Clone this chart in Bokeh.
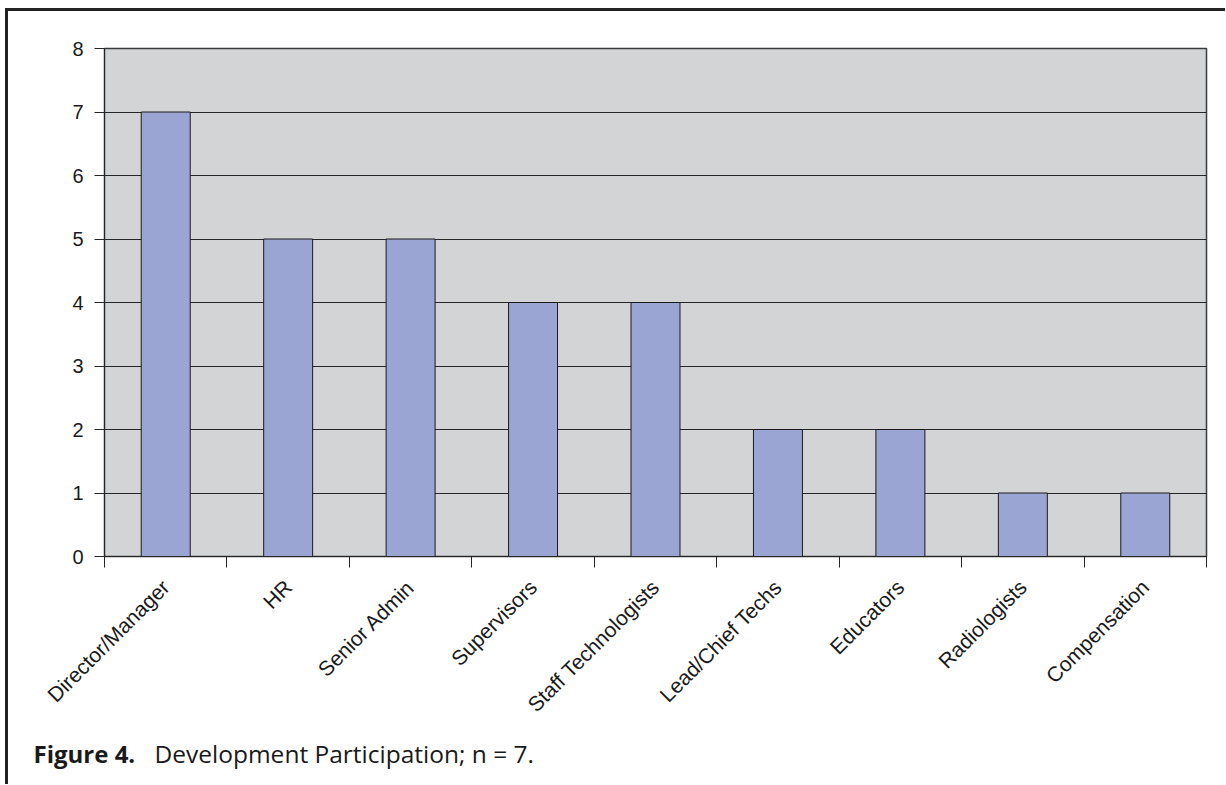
from math import pi
from bokeh.plotting import figure
from bokeh.layouts import column
from bokeh.models import Range1d, FixedTicker, Label
from bokeh.embed import file_html
from bokeh.resources import INLINE

categories = ["Director/Manager", "HR", "Senior Admin", "Supervisors",
              "Staff Technologists", "Lead/Chief Techs", "Educators",
              "Radiologists", "Compensation"]
values = [7, 5, 5, 4, 4, 2, 2, 1, 1]
y_ticks = [0, 1, 2, 3, 4, 5, 6, 7, 8]
caption_bold = "Figure 4."
caption_text = "Development Participation; n = 7."

centers = [i + 0.5 for i in range(len(categories))]
bounds = [i for i in range(len(categories) + 1)]

W = 1217
p = figure(width=W, height=721, output_backend="svg", toolbar_location=None,
           x_range=Range1d(0, len(categories)), y_range=Range1d(0, 8),
           min_border_left=96, min_border_top=37, min_border_right=19,
           min_border_bottom=176)
p.frame_align = False

p.background_fill_color = "#D3D4D6"
p.border_fill_color = "white"
p.outline_line_color = "#3a3a3a"
p.outline_line_width = 1.5

p.vbar(x=centers, top=values, width=0.4, bottom=0,
       fill_color="#9BA5D3", line_color="#1a1a1a", line_width=1)

p.xgrid.visible = False
p.ygrid.ticker = FixedTicker(ticks=y_ticks)
p.ygrid.grid_line_color = "#262626"
p.ygrid.grid_line_width = 1

ya = p.yaxis[0]
ya.ticker = FixedTicker(ticks=y_ticks)
ya.major_tick_out = 10
ya.major_tick_in = 0
ya.minor_tick_out = 0
ya.minor_tick_in = 0
ya.axis_line_color = "#262626"
ya.major_tick_line_color = "#262626"
ya.major_label_text_font = "Liberation Sans"
ya.major_label_text_font_size = "20px"
ya.major_label_text_color = "#1a1a1a"
ya.major_label_standoff = 11

xa = p.xaxis[0]
xa.ticker = FixedTicker(ticks=centers, minor_ticks=bounds)
xa.major_label_overrides = {c: n for c, n in zip(centers, categories)}
xa.major_label_orientation = pi / 4
xa.major_tick_out = 0
xa.major_tick_in = 0
xa.minor_tick_out = 11
xa.minor_tick_in = 0
xa.minor_tick_line_color = "#262626"
xa.axis_line_color = "#262626"
xa.major_label_text_font = "Liberation Sans"
xa.major_label_text_font_size = "21px"
xa.major_label_text_color = "#1a1a1a"
xa.major_label_standoff = 16

CH = 52
cap = figure(width=W, height=CH, output_backend="svg", toolbar_location=None,
             x_range=Range1d(0, W), y_range=Range1d(0, CH),
             min_border=0, x_axis_type=None, y_axis_type=None)
cap.frame_align = False
cap.outline_line_color = None
cap.grid.visible = False
cap.background_fill_color = "white"
cap.border_fill_color = "white"
cap.add_layout(Label(x=25, y=CH - 21, text=caption_bold, text_font="Open Sans",
                     text_font_style="bold", text_font_size="24px",
                     text_color="#1a1a1a", text_baseline="alphabetic"))
cap.add_layout(Label(x=146, y=CH - 21, text=caption_text, text_font="Open Sans",
                     text_font_size="24.5px",
                     text_color="#1a1a1a", text_baseline="alphabetic"))

layout = column(p, cap, spacing=0)
layout.styles = {"border-left": "3px solid #222222",
                 "border-top": "3px solid #222222",
                 "margin-left": "5px", "margin-top": "8px"}

open("out.html", "w").write(file_html(layout, INLINE))
